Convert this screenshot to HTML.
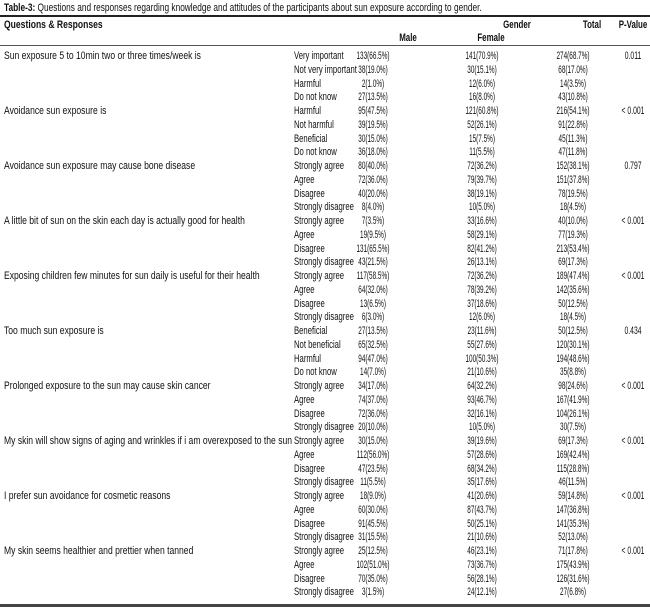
<!DOCTYPE html>
<html><head><meta charset="utf-8"><style>
body{margin:0;background:#fff;}
#w{position:relative;width:650px;height:609px;overflow:hidden;font-family:"Liberation Sans",sans-serif;font-size:11px;color:#111;}
.r{position:absolute;left:0;width:650px;height:14px;line-height:14px;}
.r span{position:absolute;top:0;white-space:nowrap;}
.q{left:4px;transform:scaleX(.78);transform-origin:0 50%;}
.s{left:294px;transform:scaleX(.70);transform-origin:0 50%;}
.m{left:373px;transform:translateX(-50%) scaleX(.58);}
.f{left:482px;transform:translateX(-50%) scaleX(.58);}
.t{left:573px;transform:translateX(-50%) scaleX(.58);}
.p{left:633px;transform:translateX(-50%) scaleX(.62);}
.b{font-weight:bold;}
.ln{position:absolute;left:0;width:650px;background:#333;}
</style></head><body><div id="w">
<div class="r" style="top:1px"><span class="q" style="transform:scaleX(.755)"><b>Table-3:</b> Questions and responses regarding knowledge and attitudes of the participants about sun exposure according to gender.</span></div>
<div class="ln" style="top:15px;height:2px;background:#222"></div>
<div class="r b" style="top:18px"><span class="q">Questions &amp; Responses</span><span style="left:517px;transform:translateX(-50%) scaleX(.72)">Gender</span><span style="left:592px;transform:translateX(-50%) scaleX(.72)">Total</span><span style="left:633px;transform:translateX(-50%) scaleX(.72)">P-Value</span></div>
<div class="r b" style="top:31px"><span style="left:408px;transform:translateX(-50%) scaleX(.72)">Male</span><span style="left:491px;transform:translateX(-50%) scaleX(.72)">Female</span></div>
<div class="ln" style="top:45px;height:1px;background:#555"></div>

<div class="r" style="top:49px"><span class="q">Sun exposure 5 to 10min two or three times/week is</span><span class="s">Very important</span><span class="m">133(66.5%)</span><span class="f">141(70.9%)</span><span class="t">274(68.7%)</span><span class="p">0.011</span></div>
<div class="r" style="top:62.75px"><span class="s">Not very important</span><span class="m">38(19.0%)</span><span class="f">30(15.1%)</span><span class="t">68(17.0%)</span></div>
<div class="r" style="top:76.5px"><span class="s">Harmful</span><span class="m">2(1.0%)</span><span class="f">12(6.0%)</span><span class="t">14(3.5%)</span></div>
<div class="r" style="top:90.25px"><span class="s">Do not know</span><span class="m">27(13.5%)</span><span class="f">16(8.0%)</span><span class="t">43(10.8%)</span></div>

<div class="r" style="top:104px"><span class="q">Avoidance sun exposure is</span><span class="s">Harmful</span><span class="m">95(47.5%)</span><span class="f">121(60.8%)</span><span class="t">216(54.1%)</span><span class="p">&lt; 0.001</span></div>
<div class="r" style="top:117.75px"><span class="s">Not harmful</span><span class="m">39(19.5%)</span><span class="f">52(26.1%)</span><span class="t">91(22.8%)</span></div>
<div class="r" style="top:131.5px"><span class="s">Beneficial</span><span class="m">30(15.0%)</span><span class="f">15(7.5%)</span><span class="t">45(11.3%)</span></div>
<div class="r" style="top:145.25px"><span class="s">Do not know</span><span class="m">36(18.0%)</span><span class="f">11(5.5%)</span><span class="t">47(11.8%)</span></div>

<div class="r" style="top:159px"><span class="q">Avoidance sun exposure may cause bone disease</span><span class="s">Strongly agree</span><span class="m">80(40.0%)</span><span class="f">72(36.2%)</span><span class="t">152(38.1%)</span><span class="p">0.797</span></div>
<div class="r" style="top:172.75px"><span class="s">Agree</span><span class="m">72(36.0%)</span><span class="f">79(39.7%)</span><span class="t">151(37.8%)</span></div>
<div class="r" style="top:186.5px"><span class="s">Disagree</span><span class="m">40(20.0%)</span><span class="f">38(19.1%)</span><span class="t">78(19.5%)</span></div>
<div class="r" style="top:200.25px"><span class="s">Strongly disagree</span><span class="m">8(4.0%)</span><span class="f">10(5.0%)</span><span class="t">18(4.5%)</span></div>

<div class="r" style="top:214px"><span class="q">A little bit of sun on the  skin each day is actually good for health</span><span class="s">Strongly agree</span><span class="m">7(3.5%)</span><span class="f">33(16.6%)</span><span class="t">40(10.0%)</span><span class="p">&lt; 0.001</span></div>
<div class="r" style="top:227.75px"><span class="s">Agree</span><span class="m">19(9.5%)</span><span class="f">58(29.1%)</span><span class="t">77(19.3%)</span></div>
<div class="r" style="top:241.5px"><span class="s">Disagree</span><span class="m">131(65.5%)</span><span class="f">82(41.2%)</span><span class="t">213(53.4%)</span></div>
<div class="r" style="top:255.25px"><span class="s">Strongly disagree</span><span class="m">43(21.5%)</span><span class="f">26(13.1%)</span><span class="t">69(17.3%)</span></div>

<div class="r" style="top:269px"><span class="q">Exposing children few minutes for sun daily is useful for their health</span><span class="s">Strongly agree</span><span class="m">117(58.5%)</span><span class="f">72(36.2%)</span><span class="t">189(47.4%)</span><span class="p">&lt; 0.001</span></div>
<div class="r" style="top:282.75px"><span class="s">Agree</span><span class="m">64(32.0%)</span><span class="f">78(39.2%)</span><span class="t">142(35.6%)</span></div>
<div class="r" style="top:296.5px"><span class="s">Disagree</span><span class="m">13(6.5%)</span><span class="f">37(18.6%)</span><span class="t">50(12.5%)</span></div>
<div class="r" style="top:310.25px"><span class="s">Strongly disagree</span><span class="m">6(3.0%)</span><span class="f">12(6.0%)</span><span class="t">18(4.5%)</span></div>

<div class="r" style="top:324px"><span class="q">Too much sun exposure is</span><span class="s">Beneficial</span><span class="m">27(13.5%)</span><span class="f">23(11.6%)</span><span class="t">50(12.5%)</span><span class="p">0.434</span></div>
<div class="r" style="top:337.75px"><span class="s">Not beneficial</span><span class="m">65(32.5%)</span><span class="f">55(27.6%)</span><span class="t">120(30.1%)</span></div>
<div class="r" style="top:351.5px"><span class="s">Harmful</span><span class="m">94(47.0%)</span><span class="f">100(50.3%)</span><span class="t">194(48.6%)</span></div>
<div class="r" style="top:365.25px"><span class="s">Do not know</span><span class="m">14(7.0%)</span><span class="f">21(10.6%)</span><span class="t">35(8.8%)</span></div>

<div class="r" style="top:379px"><span class="q">Prolonged exposure to the sun may cause skin cancer</span><span class="s">Strongly agree</span><span class="m">34(17.0%)</span><span class="f">64(32.2%)</span><span class="t">98(24.6%)</span><span class="p">&lt; 0.001</span></div>
<div class="r" style="top:392.75px"><span class="s">Agree</span><span class="m">74(37.0%)</span><span class="f">93(46.7%)</span><span class="t">167(41.9%)</span></div>
<div class="r" style="top:406.5px"><span class="s">Disagree</span><span class="m">72(36.0%)</span><span class="f">32(16.1%)</span><span class="t">104(26.1%)</span></div>
<div class="r" style="top:420.25px"><span class="s">Strongly  disagree</span><span class="m">20(10.0%)</span><span class="f">10(5.0%)</span><span class="t">30(7.5%)</span></div>

<div class="r" style="top:434px"><span class="q">My skin will show signs of aging and wrinkles if i am overexposed to the sun</span><span class="s">Strongly agree</span><span class="m">30(15.0%)</span><span class="f">39(19.6%)</span><span class="t">69(17.3%)</span><span class="p">&lt; 0.001</span></div>
<div class="r" style="top:447.75px"><span class="s">Agree</span><span class="m">112(56.0%)</span><span class="f">57(28.6%)</span><span class="t">169(42.4%)</span></div>
<div class="r" style="top:461.5px"><span class="s">Disagree</span><span class="m">47(23.5%)</span><span class="f">68(34.2%)</span><span class="t">115(28.8%)</span></div>
<div class="r" style="top:475.25px"><span class="s">Strongly disagree</span><span class="m">11(5.5%)</span><span class="f">35(17.6%)</span><span class="t">46(11.5%)</span></div>

<div class="r" style="top:489px"><span class="q">I prefer sun avoidance for cosmetic reasons</span><span class="s">Strongly agree</span><span class="m">18(9.0%)</span><span class="f">41(20.6%)</span><span class="t">59(14.8%)</span><span class="p">&lt; 0.001</span></div>
<div class="r" style="top:502.75px"><span class="s">Agree</span><span class="m">60(30.0%)</span><span class="f">87(43.7%)</span><span class="t">147(36.8%)</span></div>
<div class="r" style="top:516.5px"><span class="s">Disagree</span><span class="m">91(45.5%)</span><span class="f">50(25.1%)</span><span class="t">141(35.3%)</span></div>
<div class="r" style="top:530.25px"><span class="s">Strongly  disagree</span><span class="m">31(15.5%)</span><span class="f">21(10.6%)</span><span class="t">52(13.0%)</span></div>

<div class="r" style="top:544px"><span class="q">My skin seems healthier and prettier when tanned</span><span class="s">Strongly agree</span><span class="m">25(12.5%)</span><span class="f">46(23.1%)</span><span class="t">71(17.8%)</span><span class="p">&lt; 0.001</span></div>
<div class="r" style="top:557.75px"><span class="s">Agree</span><span class="m">102(51.0%)</span><span class="f">73(36.7%)</span><span class="t">175(43.9%)</span></div>
<div class="r" style="top:571.5px"><span class="s">Disagree</span><span class="m">70(35.0%)</span><span class="f">56(28.1%)</span><span class="t">126(31.6%)</span></div>
<div class="r" style="top:585.25px"><span class="s">Strongly  disagree</span><span class="m">3(1.5%)</span><span class="f">24(12.1%)</span><span class="t">27(6.8%)</span></div>

<div class="ln" style="top:604px;height:3px;background:#444"></div>
</div></body></html>
